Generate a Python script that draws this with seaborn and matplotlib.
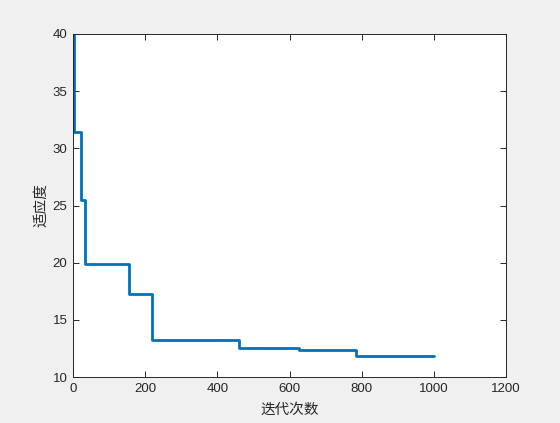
import numpy as np
import pandas as pd
import matplotlib
matplotlib.use("Agg")
import matplotlib.pyplot as plt
import seaborn as sns

# Step points (iteration where the best fitness changes, value from then on)
iterations = [1, 4, 21, 33, 156, 220, 459, 627, 784, 1000]
fitness = [40.0, 31.45, 25.5, 19.9, 17.25, 13.2, 12.5, 12.4, 11.8, 11.8]

x_ticks = [0, 200, 400, 600, 800, 1000, 1200]
y_ticks = [10, 15, 20, 25, 30, 35, 40]
x_label = "迭代次数"
y_label = "适应度"

sns.set_theme(style="white")
plt.rcParams['font.family'] = ['Liberation Sans', 'Noto Sans CJK SC', 'DejaVu Sans']

df = pd.DataFrame({"iter": iterations, "fit": fitness})

fig = plt.figure(figsize=(5.6, 4.23), dpi=100)
fig.patch.set_facecolor("#f0f0f0")
ax = fig.add_axes([73/560, 1-377/423, (506-73)/560, (377-34)/423])
ax.set_facecolor("white")

sns.lineplot(data=df, x="iter", y="fit", ax=ax, color="#0072BD", linewidth=2,
             drawstyle="steps-post", estimator=None)

ax.set_xlim(0, 1200)
ax.set_ylim(10, 40)
ax.set_xticks(x_ticks)
ax.set_yticks(y_ticks)
ax.tick_params(direction="in", length=4, width=0.7, colors="#262626",
               labelsize=9.5, top=True, right=True, bottom=True, left=True,
               labelcolor="#262626", pad=4)
for s in ax.spines.values():
    s.set_color("#262626")
    s.set_linewidth(0.7)
    s.set_visible(True)
ax.set_xlabel(x_label, fontsize=10.5, color="#262626", family=['Noto Sans CJK SC'], labelpad=6)
ax.set_ylabel(y_label, fontsize=10.5, color="#262626", family=['Noto Sans CJK SC'], labelpad=3)
ax.grid(False)

fig.savefig("out.png", dpi=100, facecolor=fig.get_facecolor())
